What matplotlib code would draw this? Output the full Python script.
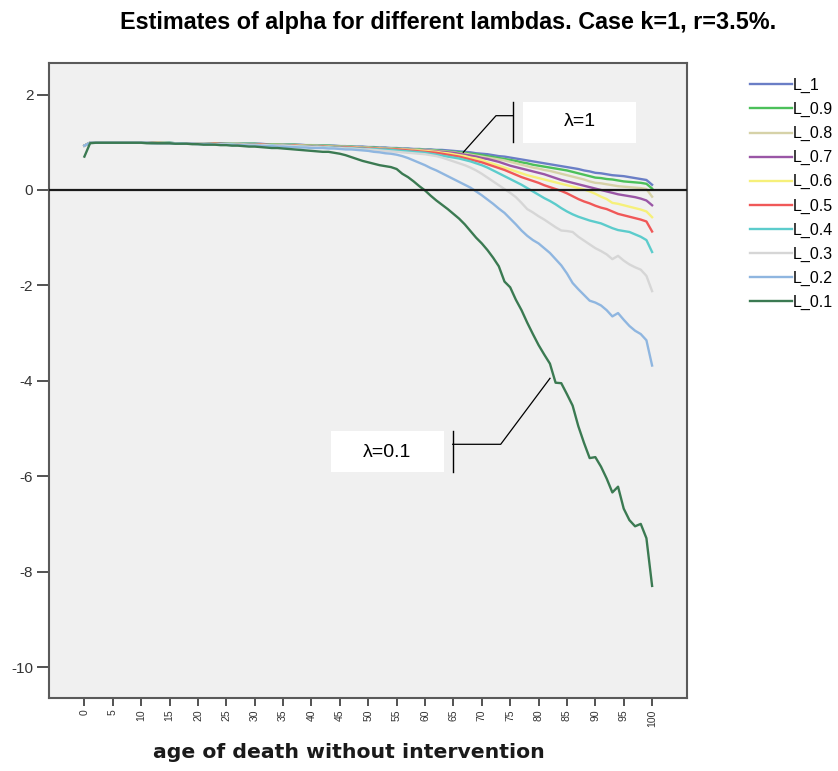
import numpy as np
import matplotlib
matplotlib.use("Agg")
import matplotlib.pyplot as plt
from matplotlib.patches import Rectangle

ages = list(range(0, 101))
series_names = ["L_1", "L_0.9", "L_0.8", "L_0.7", "L_0.6", "L_0.5", "L_0.4", "L_0.3", "L_0.2", "L_0.1"]
series_colors = ["#6a7ec6", "#4cc05a", "#d6d2a8", "#9a56a6", "#f6f07a", "#f05858", "#5ccccc", "#d6d6d6", "#8fb6e0", "#3b7a52"]

L_1 = [0.93,
       0.99, 0.99, 0.99, 0.99, 0.99, 0.99, 0.99, 0.99, 0.99, 0.99,
       0.99, 0.99, 0.99, 0.99, 0.99, 0.98, 0.98, 0.98, 0.98, 0.98,
       0.98, 0.98, 0.98, 0.98, 0.98, 0.97, 0.97, 0.97, 0.97, 0.97,
       0.97, 0.96, 0.96, 0.96, 0.96, 0.95, 0.95, 0.95, 0.94, 0.94,
       0.94, 0.93, 0.93, 0.93, 0.92, 0.92, 0.91, 0.91, 0.91, 0.90,
       0.90, 0.89, 0.89, 0.88, 0.88, 0.87, 0.87, 0.86, 0.86, 0.85,
       0.85, 0.84, 0.84, 0.83, 0.82, 0.81, 0.80, 0.79, 0.77, 0.76,
       0.75, 0.73, 0.71, 0.70, 0.68, 0.66, 0.64, 0.62, 0.60, 0.58,
       0.56, 0.54, 0.52, 0.50, 0.48, 0.46, 0.44, 0.41, 0.39, 0.36,
       0.35, 0.33, 0.31, 0.30, 0.29, 0.27, 0.25, 0.23, 0.21, 0.11]

L_09 = [0.93,
        0.99, 0.99, 0.99, 0.99, 0.99, 0.99, 0.99, 0.99, 0.99, 0.99,
        0.99, 0.99, 0.99, 0.99, 0.99, 0.98, 0.98, 0.98, 0.98, 0.98,
        0.98, 0.98, 0.98, 0.98, 0.97, 0.97, 0.97, 0.97, 0.97, 0.97,
        0.96, 0.96, 0.96, 0.96, 0.95, 0.95, 0.95, 0.94, 0.94, 0.94,
        0.93, 0.93, 0.93, 0.92, 0.92, 0.91, 0.91, 0.90, 0.90, 0.89,
        0.89, 0.88, 0.88, 0.87, 0.87, 0.86, 0.86, 0.85, 0.85, 0.84,
        0.84, 0.83, 0.82, 0.81, 0.80, 0.79, 0.78, 0.76, 0.75, 0.73,
        0.71, 0.69, 0.67, 0.65, 0.63, 0.61, 0.58, 0.56, 0.53, 0.51,
        0.49, 0.47, 0.45, 0.43, 0.41, 0.38, 0.35, 0.32, 0.29, 0.26,
        0.25, 0.23, 0.22, 0.20, 0.18, 0.17, 0.16, 0.15, 0.13, 0.03]

L_08 = [0.93,
        0.99, 0.99, 0.99, 0.99, 0.99, 0.99, 0.99, 0.99, 0.99, 0.99,
        0.99, 0.99, 0.99, 0.99, 0.98, 0.98, 0.98, 0.98, 0.98, 0.98,
        0.98, 0.98, 0.97, 0.97, 0.97, 0.97, 0.97, 0.96, 0.96, 0.96,
        0.96, 0.95, 0.95, 0.95, 0.95, 0.94, 0.94, 0.94, 0.93, 0.93,
        0.93, 0.92, 0.92, 0.91, 0.91, 0.91, 0.90, 0.90, 0.89, 0.89,
        0.88, 0.88, 0.87, 0.87, 0.86, 0.86, 0.85, 0.85, 0.84, 0.84,
        0.83, 0.82, 0.81, 0.80, 0.79, 0.77, 0.76, 0.74, 0.72, 0.70,
        0.68, 0.66, 0.64, 0.62, 0.59, 0.56, 0.53, 0.50, 0.47, 0.45,
        0.42, 0.40, 0.37, 0.34, 0.31, 0.28, 0.25, 0.22, 0.18, 0.15,
        0.14, 0.12, 0.10, 0.08, 0.07, 0.06, 0.05, 0.04, 0.02, -0.14]

L_07 = [0.93,
        0.99, 0.99, 0.99, 0.99, 0.99, 0.99, 0.99, 0.99, 0.99, 0.99,
        0.99, 0.99, 0.99, 0.98, 0.98, 0.98, 0.98, 0.98, 0.98, 0.97,
        0.97, 0.97, 0.97, 0.97, 0.96, 0.96, 0.96, 0.96, 0.95, 0.95,
        0.95, 0.95, 0.94, 0.94, 0.94, 0.93, 0.93, 0.93, 0.92, 0.92,
        0.92, 0.91, 0.91, 0.90, 0.90, 0.90, 0.89, 0.89, 0.88, 0.88,
        0.87, 0.87, 0.86, 0.86, 0.85, 0.85, 0.84, 0.84, 0.83, 0.83,
        0.82, 0.81, 0.80, 0.79, 0.78, 0.76, 0.74, 0.72, 0.70, 0.67,
        0.65, 0.62, 0.59, 0.55, 0.51, 0.48, 0.45, 0.42, 0.39, 0.36,
        0.33, 0.29, 0.25, 0.21, 0.18, 0.15, 0.12, 0.09, 0.06, 0.03,
        0.00, -0.03, -0.06, -0.09, -0.11, -0.13, -0.15, -0.18, -0.22, -0.32]

L_06 = [0.93,
        0.99, 0.99, 0.99, 0.99, 0.99, 0.99, 0.99, 0.99, 0.99, 0.99,
        0.99, 0.99, 0.99, 0.98, 0.98, 0.98, 0.98, 0.98, 0.97, 0.97,
        0.97, 0.97, 0.97, 0.96, 0.96, 0.96, 0.96, 0.96, 0.95, 0.95,
        0.95, 0.94, 0.94, 0.94, 0.94, 0.93, 0.93, 0.93, 0.92, 0.92,
        0.92, 0.91, 0.91, 0.90, 0.90, 0.89, 0.89, 0.89, 0.88, 0.88,
        0.87, 0.87, 0.86, 0.86, 0.85, 0.85, 0.84, 0.83, 0.83, 0.82,
        0.81, 0.80, 0.78, 0.77, 0.75, 0.73, 0.71, 0.68, 0.66, 0.63,
        0.58, 0.55, 0.51, 0.47, 0.43, 0.39, 0.35, 0.31, 0.28, 0.25,
        0.22, 0.19, 0.16, 0.13, 0.10, 0.07, 0.04, 0.01, -0.03, -0.08,
        -0.14, -0.19, -0.27, -0.29, -0.32, -0.35, -0.38, -0.41, -0.45, -0.57]

L_05 = [0.93,
        0.99, 0.99, 0.99, 0.99, 0.99, 0.99, 0.99, 0.99, 0.99, 0.99,
        0.99, 0.99, 0.98, 0.98, 0.98, 0.98, 0.98, 0.98, 0.97, 0.97,
        0.97, 0.97, 0.97, 0.96, 0.96, 0.96, 0.96, 0.95, 0.95, 0.95,
        0.95, 0.94, 0.94, 0.94, 0.93, 0.93, 0.93, 0.92, 0.92, 0.92,
        0.91, 0.91, 0.90, 0.90, 0.90, 0.89, 0.89, 0.88, 0.88, 0.87,
        0.87, 0.86, 0.86, 0.85, 0.85, 0.84, 0.83, 0.82, 0.81, 0.80,
        0.79, 0.78, 0.76, 0.74, 0.72, 0.70, 0.67, 0.64, 0.61, 0.58,
        0.54, 0.50, 0.46, 0.42, 0.37, 0.32, 0.27, 0.23, 0.19, 0.15,
        0.10, 0.06, 0.02, -0.02, -0.07, -0.13, -0.19, -0.24, -0.28, -0.33,
        -0.37, -0.40, -0.45, -0.50, -0.53, -0.56, -0.59, -0.62, -0.66, -0.87]

L_04 = [0.93,
        0.99, 0.99, 0.99, 0.99, 0.99, 0.99, 0.99, 0.99, 0.99, 0.99,
        0.99, 0.99, 0.98, 0.98, 0.98, 0.98, 0.98, 0.97, 0.97, 0.97,
        0.97, 0.97, 0.96, 0.96, 0.96, 0.96, 0.95, 0.95, 0.95, 0.95,
        0.94, 0.94, 0.94, 0.93, 0.93, 0.93, 0.92, 0.92, 0.91, 0.91,
        0.91, 0.90, 0.90, 0.89, 0.89, 0.88, 0.88, 0.87, 0.87, 0.86,
        0.86, 0.85, 0.85, 0.84, 0.83, 0.82, 0.81, 0.80, 0.79, 0.78,
        0.76, 0.74, 0.72, 0.70, 0.68, 0.66, 0.63, 0.60, 0.56, 0.52,
        0.47, 0.41, 0.35, 0.29, 0.23, 0.17, 0.11, 0.04, -0.03, -0.10,
        -0.17, -0.23, -0.30, -0.38, -0.45, -0.51, -0.56, -0.60, -0.64, -0.67,
        -0.70, -0.75, -0.80, -0.84, -0.86, -0.88, -0.93, -0.98, -1.05, -1.30]

L_03 = [0.93,
        0.99, 0.99, 0.99, 0.99, 0.99, 0.99, 0.99, 0.99, 0.99, 0.99,
        0.99, 0.98, 0.98, 0.98, 0.98, 0.98, 0.97, 0.97, 0.97, 0.97,
        0.97, 0.96, 0.96, 0.96, 0.96, 0.95, 0.95, 0.95, 0.94, 0.94,
        0.94, 0.94, 0.93, 0.93, 0.93, 0.92, 0.92, 0.91, 0.91, 0.90,
        0.90, 0.89, 0.89, 0.88, 0.88, 0.87, 0.87, 0.86, 0.85, 0.85,
        0.84, 0.83, 0.82, 0.81, 0.80, 0.79, 0.78, 0.77, 0.76, 0.75,
        0.73, 0.71, 0.68, 0.64, 0.60, 0.56, 0.52, 0.47, 0.41, 0.34,
        0.26, 0.18, 0.10, 0.02, -0.06, -0.15, -0.27, -0.40, -0.47, -0.55,
        -0.62, -0.70, -0.78, -0.85, -0.86, -0.88, -0.98, -1.06, -1.14, -1.22,
        -1.28, -1.35, -1.45, -1.38, -1.48, -1.56, -1.62, -1.67, -1.80, -2.12]

L_02 = [0.93,
        0.99, 0.99, 0.99, 0.99, 0.99, 0.99, 0.99, 0.99, 0.99, 0.99,
        0.99, 0.98, 0.98, 0.98, 0.98, 0.97, 0.97, 0.97, 0.97, 0.96,
        0.96, 0.96, 0.95, 0.95, 0.95, 0.94, 0.94, 0.94, 0.93, 0.93,
        0.93, 0.92, 0.92, 0.91, 0.91, 0.90, 0.90, 0.89, 0.89, 0.88,
        0.88, 0.88, 0.87, 0.87, 0.86, 0.85, 0.85, 0.84, 0.83, 0.82,
        0.80, 0.79, 0.77, 0.76, 0.74, 0.71, 0.67, 0.62, 0.57, 0.52,
        0.46, 0.41, 0.35, 0.29, 0.23, 0.17, 0.11, 0.05, -0.03, -0.11,
        -0.20, -0.29, -0.39, -0.48, -0.60, -0.72, -0.85, -0.96, -1.05, -1.12,
        -1.22, -1.32, -1.45, -1.58, -1.75, -1.95, -2.08, -2.20, -2.32, -2.36,
        -2.42, -2.52, -2.65, -2.58, -2.72, -2.85, -2.95, -3.02, -3.15, -3.68]

L_01 = [0.70,
        0.98, 0.99, 0.99, 0.99, 0.99, 0.99, 0.99, 0.99, 0.99, 0.99,
        0.98, 0.98, 0.98, 0.98, 0.98, 0.97, 0.97, 0.97, 0.96, 0.96,
        0.95, 0.95, 0.95, 0.94, 0.94, 0.93, 0.93, 0.92, 0.91, 0.91,
        0.90, 0.89, 0.88, 0.88, 0.87, 0.86, 0.85, 0.84, 0.83, 0.82,
        0.81, 0.80, 0.80, 0.78, 0.76, 0.73, 0.69, 0.65, 0.61, 0.58,
        0.55, 0.52, 0.50, 0.48, 0.44, 0.34, 0.27, 0.18, 0.08, -0.01,
        -0.12, -0.22, -0.31, -0.40, -0.50, -0.60, -0.72, -0.86, -1.00, -1.12,
        -1.26, -1.42, -1.60, -1.92, -2.04, -2.30, -2.52, -2.78, -3.02, -3.25,
        -3.45, -3.64, -4.04, -4.05, -4.28, -4.52, -4.95, -5.30, -5.62, -5.60,
        -5.80, -6.05, -6.34, -6.22, -6.68, -6.92, -7.05, -7.00, -7.30, -8.30]

series_values = [L_1, L_09, L_08, L_07, L_06, L_05, L_04, L_03, L_02, L_01]

x_ticks = list(range(0, 101, 5))
y_ticks = [2, 0, -2, -4, -6, -8, -10]

title = "Estimates of alpha for different lambdas. Case k=1, r=3.5%."
xlabel = "age of death without intervention"

W, H = 838, 771
fig = plt.figure(figsize=(W / 100, H / 100), dpi=100)
fig.patch.set_facecolor("white")

left_px, right_px, top_px, bot_px = 49.3, 687, 63.3, 698.3
ax = fig.add_axes([left_px / W, 1 - bot_px / H, (right_px - left_px) / W, (bot_px - top_px) / H])
ax.set_facecolor("#f0f0f0")

px_per_x = 5.677
x0_px = 84.4
ax.set_xlim((left_px - x0_px) / px_per_x, (right_px - x0_px) / px_per_x)
ax.set_ylim(-10.656, 2.656)

handles = []
for name, vals, col in zip(series_names, series_values, series_colors):
    h, = ax.plot(ages, vals, color=col, lw=1.7, label=name, solid_joinstyle="round", zorder=3)
    handles.append(h)

ax.axhline(0, color="#1a1a1a", lw=1.6, zorder=4)

for sp in ax.spines.values():
    sp.set_color("#5a5a5a")
    sp.set_linewidth(1.5)

ax.set_xticks(x_ticks)
ax.set_xticklabels([str(t) for t in x_ticks], rotation=90, fontsize=7.5,
                   family="Liberation Sans", color="#333333")
ax.set_yticks(y_ticks)
ax.set_yticklabels([str(t) for t in y_ticks], fontsize=11, family="Liberation Sans", color="#333333")
ax.tick_params(axis="x", length=6, width=1.3, color="#444444", pad=2)
ax.tick_params(axis="y", length=8.5, width=1.3, color="#444444", pad=3)

def px2data(px, py):
    return (px - x0_px) / px_per_x, (190 - py) / 47.7

# annotation: lambda = 1
bx0, by0 = px2data(523.3, 142.7)
bx1, by1 = px2data(636, 101.7)
ax.add_patch(Rectangle((bx0, by0), bx1 - bx0, by1 - by0, facecolor="white", edgecolor="none", zorder=5))
tx, ty = px2data(579.7, 122)
ax.text(tx, ty, "λ=1", ha="center", va="center", fontsize=14, family="Liberation Sans", zorder=6)
vx, vy0 = px2data(513.3, 101.7)
_, vy1 = px2data(513.3, 142.3)
ax.plot([vx, vx], [vy0, vy1], color="black", lw=1, zorder=6)
hx, hy = px2data(496, 115.7)
dx, dy = px2data(463.3, 152.3)
ax.plot([vx, hx, dx], [hy, hy, dy], color="black", lw=0.9, zorder=6)

# annotation: lambda = 0.1
bx0, by0 = px2data(331, 471.7)
bx1, by1 = px2data(444, 431)
ax.add_patch(Rectangle((bx0, by0), bx1 - bx0, by1 - by0, facecolor="white", edgecolor="none", zorder=5))
tx, ty = px2data(387.5, 452)
ax.text(tx, ty, "λ=0.1", ha="center", va="center", fontsize=14, family="Liberation Sans", zorder=6)
vx, vy0 = px2data(452.7, 431)
_, vy1 = px2data(452.7, 471.7)
ax.plot([vx, vx], [vy0, vy1], color="black", lw=1, zorder=6)
hx, hy = px2data(500.7, 444.3)
dx, dy = px2data(550, 378.3)
ax.plot([vx, hx, dx], [hy, hy, dy], color="black", lw=0.9, zorder=6)

fig.legend(handles, series_names, loc="upper left", bbox_to_anchor=(750 / W, 1 - 78 / H),
           frameon=False, handlelength=2.6, handletextpad=0.1,
           labelspacing=0.56, borderpad=0, borderaxespad=0,
           prop={"family": "Liberation Sans", "size": 11.5})

fig.text(448 / W, 1 - 22 / H, title, ha="center", va="center", fontsize=16.8,
         fontweight="bold", family="Liberation Sans")
fig.text(348.5 / W, 1 - 752 / H, xlabel, ha="center", va="center", fontsize=14.7,
         fontweight="bold", family="DejaVu Sans", color="#1a1a1a")

fig.savefig("out.png", dpi=100, facecolor="white")
